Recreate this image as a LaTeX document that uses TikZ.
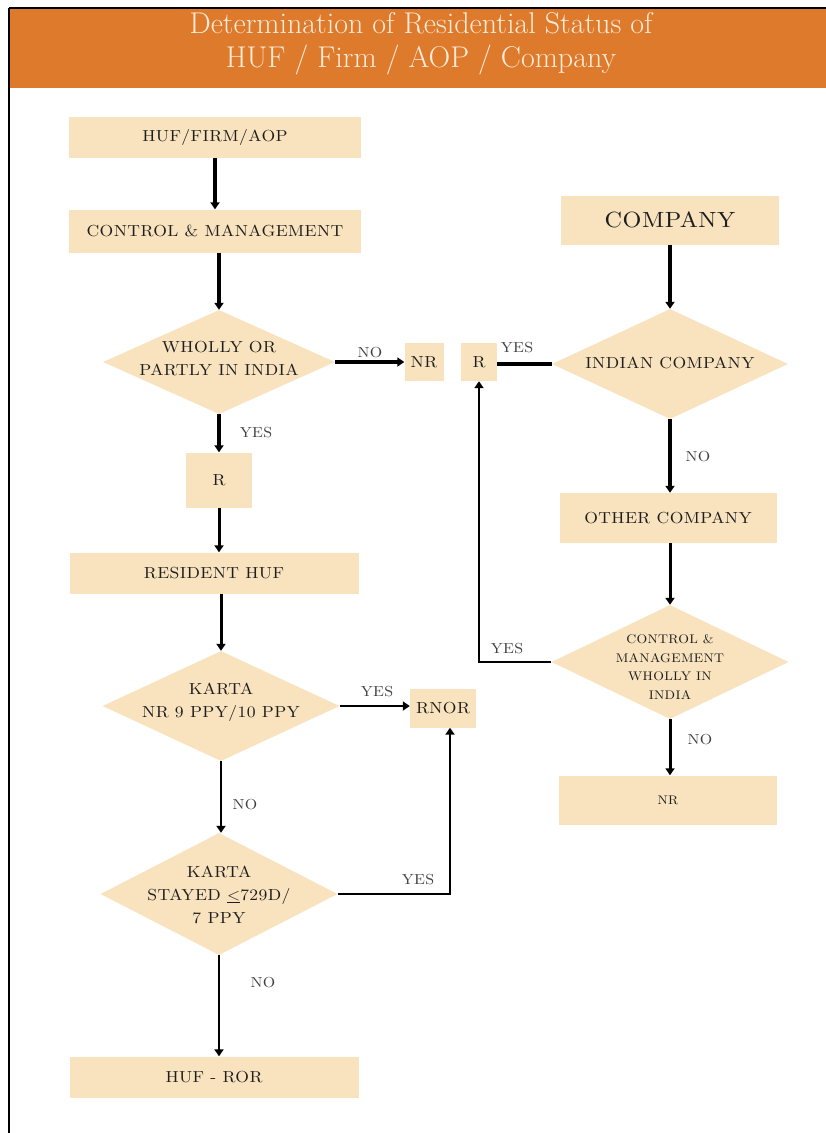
\documentclass[tikz,border=0pt]{standalone}
\usepackage{fontspec}
\usetikzlibrary{shapes.geometric,arrows.meta}
\definecolor{hdr}{HTML}{DE7A2C}
\definecolor{boxc}{HTML}{F9E3BF}
\definecolor{ttl}{HTML}{FCEBD9}
\definecolor{txt}{HTML}{1E1E1E}
\newfontfamily\lmx{lmroman10-regular.otf}[FakeStretch=1.1,LetterSpace=2.5]
\newcommand\bxfont{\lmx\fontsize{16}{23}\selectfont}
\newcommand\smfont{\lmx\fontsize{12.5}{18.5}\selectfont}
\newcommand\lgfont{\lmx\fontsize{22}{26}\selectfont}
\newcommand\lbfont{\lmx\fontsize{14.5}{17}\selectfont}
\begin{document}
\begin{tikzpicture}[x=1pt,y=-1pt,
  box/.style={rectangle,fill=boxc,inner sep=0pt,text=txt,font=\bxfont,align=center},
  dia/.style={diamond,fill=boxc,inner sep=0pt},
  dtext/.style={inner sep=0pt,text=txt,font=\bxfont,align=center},
  lbl/.style={text=txt!85,font=\lbfont,inner sep=0pt},
  tip/.style={-{Triangle[length=7pt,width=9pt]}},
  w4/.style={line width=4pt},
  w3/.style={line width=3pt},
  w2/.style={line width=2.2pt},
  ttlstyle/.style={text=ttl,font=\fontsize{30}{32}\selectfont,inner sep=0pt}
]
\useasboundingbox (0,0) rectangle (826,1133);
\fill[white] (0,0) rectangle (826,1133);
\fill[hdr] (9,9) rectangle (826,88);
\draw[line width=2pt] (9,8) -- (826,8);
\draw[line width=2pt] (9,8) -- (9,1133);
\node[ttlstyle] (t1) at (421,23) {Determination of Residential Status of};
\node[ttlstyle] (t2) at (421,60) {HUF / Firm / AOP / Company};

% left column
\node[box,minimum width=292pt,minimum height=41pt] (hfa) at (215,137) {HUF/FIRM/AOP};
\node[box,minimum width=292pt,minimum height=43pt] (cm) at (215,231) {CONTROL \& MANAGEMENT};
\node[dia,minimum width=232pt,minimum height=104pt] (wp) at (219,362) {};
\node[dtext] (wpt) at (219,359) {WHOLLY OR\\PARTLY IN INDIA};
\node[box,minimum width=39pt,minimum height=38pt] (nr1) at (424,362) {NR};
\node[box,minimum width=66pt,minimum height=55pt] (r1) at (219,480) {R};
\node[box,minimum width=289pt,minimum height=41pt] (rh) at (214,573) {RESIDENT HUF};
\node[dia,minimum width=237pt,minimum height=110pt] (k1) at (221,706) {};
\node[dtext] (k1t) at (221,702) {KARTA\\NR 9 PPY/10 PPY};
\node[box,minimum width=66pt,minimum height=39pt] (rnor) at (443,708) {RNOR};
\node[dia,minimum width=237pt,minimum height=122pt] (k2) at (219,894) {};
\node[dtext] (k2t) at (219,895) {KARTA\\STAYED \underline{$<$}729D/\\7 PPY};
\node[box,minimum width=289pt,minimum height=41pt] (ror) at (214,1077) {HUF - ROR};

% right column
\node[box,minimum width=36pt,minimum height=38pt] (r2) at (479,362) {R};
\node[box,minimum width=218pt,minimum height=49pt,font=\lgfont] (comp) at (670,220) {COMPANY};
\node[dia,minimum width=236pt,minimum height=110pt] (ic) at (670,364) {};
\node[dtext] (ict) at (670,363) {INDIAN COMPANY};
\node[box,minimum width=217pt,minimum height=50pt] (oc) at (668,518) {OTHER COMPANY};
\node[dia,minimum width=237pt,minimum height=114pt] (cmd) at (670,662) {};
\node[dtext,font=\smfont] (cmdt) at (670,667) {CONTROL \&\\MANAGEMENT\\WHOLLY IN\\INDIA};
\node[box,minimum width=218pt,minimum height=49pt,font=\smfont] (nr2) at (668,800) {NR};

% connectors left
\draw[w4,tip] (hfa.south) -- (cm.north);
\draw[w4,tip] (wp.north |- cm.south) -- (wp.north);
\draw[w4,tip] (wp.east) -- (nr1.west |- wp.east);
\draw[w4,tip] (wp.south) -- (r1.north);
\draw[w3,tip] (r1.south) -- (r1.south |- rh.north);
\draw[w3,tip] (k1.north |- rh.south) -- (k1.north);
\draw[w2,tip] (k1.east) -- (k1.east -| rnor.west);
\draw[w2,tip] (k1.south) -- (k1.south |- k2.north);
\coordinate (rnorin) at ([xshift=7pt]rnor.south);
\draw[w2,tip] (k2.east) -| (rnorin);
\draw[w2,tip] (k2.south) -- (k2.south |- ror.north);

% connectors right
\draw[w4,tip] (comp.south) -- (comp.south |- ic.north);
\draw[w4] (ic.west) -- (ic.west -| r2.east);
\draw[w4,tip] (ic.south) -- (ic.south |- oc.north);
\draw[w3,tip] (cmd.north |- oc.south) -- (cmd.north);
\draw[w2,tip] (cmd.west) -| (r2.south);
\draw[w3,tip] (cmd.south) -- (cmd.south |- nr2.north);

% labels
\node[lbl] (l1) at (370,353) {NO};
\node[lbl] (l2) at (256,433) {YES};
\node[lbl] (l3) at (517,348) {YES};
\node[lbl] (l4) at (698,457) {NO};
\node[lbl] (l5) at (507,649) {YES};
\node[lbl] (l6) at (700,740) {NO};
\node[lbl] (l7) at (377,692) {YES};
\node[lbl] (l8) at (245,805) {NO};
\node[lbl] (l9) at (418,880) {YES};
\node[lbl] (l10) at (263,983) {NO};
\end{tikzpicture}
\end{document}
